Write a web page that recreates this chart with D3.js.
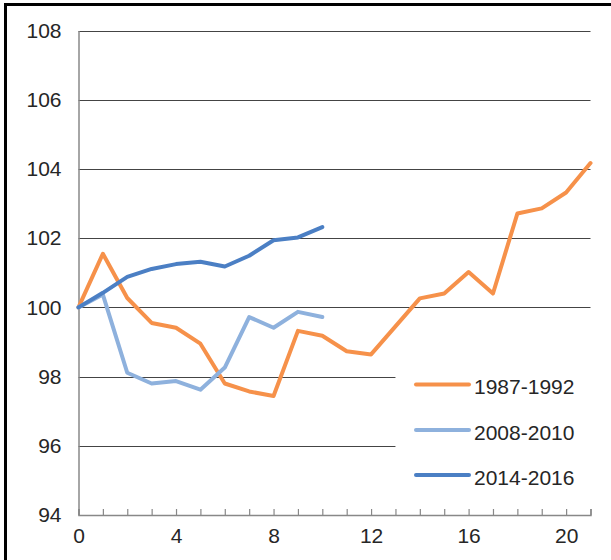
<!DOCTYPE html>
<html>
<head>
<meta charset="utf-8">
<script src="https://cdn.jsdelivr.net/npm/d3@7"></script>
<style>
  html, body { margin: 0; padding: 0; background: #fff; }
  svg { display: block; }
  text { font-family: "Liberation Sans", Arial, sans-serif; fill: #262626; }
</style>
</head>
<body>
<svg id="chart" width="611" height="560"></svg>
<script>
// Index levels (start = 100) by period
const series1987 = [100, 101.55, 100.27, 99.55, 99.41, 98.95, 97.80, 97.57, 97.44, 99.32, 99.18,
                    98.73, 98.64, 99.45, 100.26, 100.40, 101.02, 100.40, 102.71, 102.86, 103.32, 104.17];
const series2008 = [100, 100.37, 98.11, 97.80, 97.87, 97.62, 98.26, 99.72, 99.41, 99.87, 99.72];
const series2014 = [100, 100.42, 100.88, 101.11, 101.25, 101.32, 101.18, 101.49, 101.94, 102.02, 102.32];

const seriesNames = ["1987-1992", "2008-2010", "2014-2016"];
const seriesColors = ["#F6914A", "#8EB1DD", "#4B7FC4"];
const yTicks = [94, 96, 98, 100, 102, 104, 106, 108];
const xTicks = [0, 4, 8, 12, 16, 20];

const svg = d3.select("#chart");

// Outer frame (open at right and bottom)
svg.append("rect")
  .attr("x", 5.5).attr("y", 4.5)
  .attr("width", 700).attr("height", 700)
  .attr("fill", "none").attr("stroke", "#000").attr("stroke-width", 3);

const x = d3.scaleLinear().domain([0, 21]).range([78.5, 590.5]);
const y = d3.scaleLinear().domain([94, 108]).range([515, 30.5]);

// Gridlines; the lower ones stop short of the legend
const legendGapX = x(13);
svg.append("g").selectAll("line")
  .data(yTicks.filter(v => v > 94))
  .join("line")
  .attr("x1", x(0))
  .attr("x2", d => d < 100 ? legendGapX : x(21))
  .attr("y1", d => Math.round(y(d)) + 0.5)
  .attr("y2", d => Math.round(y(d)) + 0.5)
  .attr("stroke", "#444").attr("stroke-width", 1.2);

// Y axis
const yAxis = svg.append("g")
  .attr("transform", `translate(${x(0)},0)`)
  .call(d3.axisLeft(y).tickValues(yTicks).tickSize(0).tickPadding(17));
yAxis.select(".domain").attr("stroke", "#888").attr("stroke-width", 1.5);
yAxis.selectAll("text")
  .attr("font-size", 21).attr("fill", "#262626")
  .attr("font-family", "Liberation Sans, Arial, sans-serif");

// X axis with inward ticks at every period
const xAxis = svg.append("g")
  .attr("transform", `translate(0,${y(94)})`)
  .call(d3.axisBottom(x).tickValues(d3.range(0, 22)).tickSize(-6).tickPadding(13)
    .tickFormat(d => xTicks.includes(d) ? d : ""));
xAxis.select(".domain").attr("stroke", "#888").attr("stroke-width", 1.5);
xAxis.selectAll(".tick line").attr("stroke", "#888").attr("stroke-width", 1.2);
xAxis.selectAll("text")
  .attr("font-size", 21).attr("fill", "#262626")
  .attr("font-family", "Liberation Sans, Arial, sans-serif");

// Lines
const line = d3.line().x((d, i) => x(i)).y(d => y(d));
const allSeries = [series1987, series2008, series2014];
svg.append("g").selectAll("path")
  .data(allSeries)
  .join("path")
  .attr("d", line)
  .attr("fill", "none")
  .attr("stroke", (d, i) => seriesColors[i])
  .attr("stroke-width", 4)
  .attr("stroke-linejoin", "round")
  .attr("stroke-linecap", "round");

// Legend
const legend = svg.append("g");
const legendY = [384.5, 430, 475];
seriesNames.forEach((name, i) => {
  legend.append("line")
    .attr("x1", 416).attr("x2", 469)
    .attr("y1", legendY[i]).attr("y2", legendY[i])
    .attr("stroke", seriesColors[i]).attr("stroke-width", 4)
    .attr("stroke-linecap", "round");
  legend.append("text")
    .attr("x", 474).attr("y", legendY[i] + 9.5)
    .attr("font-size", 21)
    .text(name);
});
</script>
</body>
</html>
